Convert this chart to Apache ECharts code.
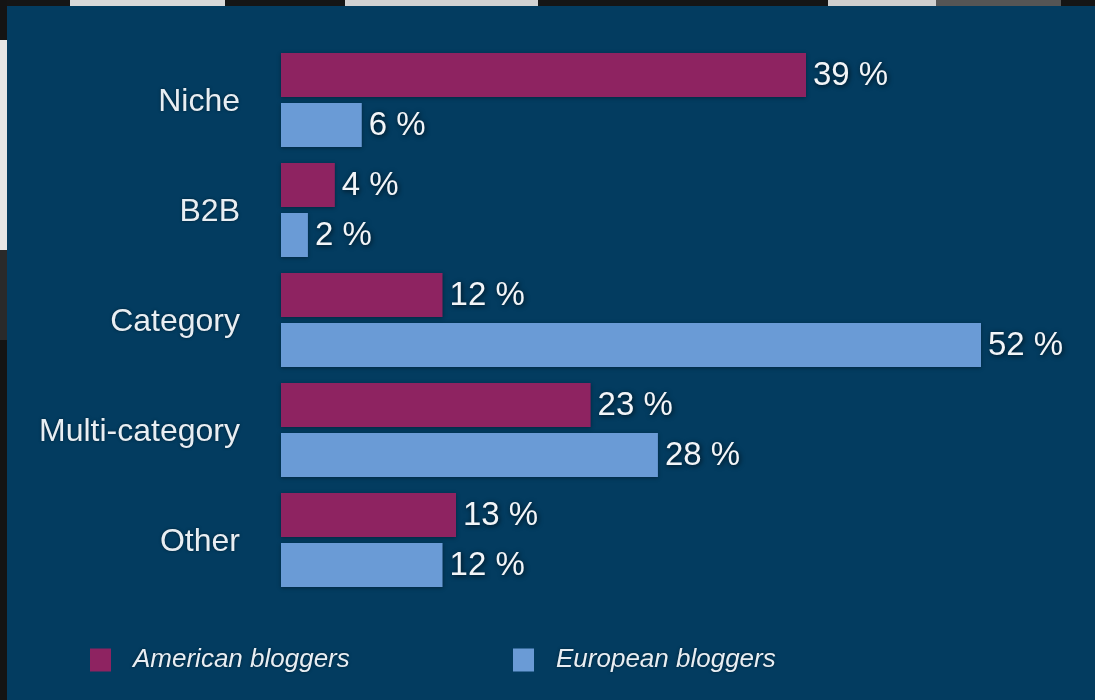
<!DOCTYPE html>
<html>
<head>
<meta charset="utf-8">
<title>Blogger focus: American vs European</title>
<script src="https://cdn.jsdelivr.net/npm/echarts@6/dist/echarts.min.js"></script>
<style>
  html, body { margin: 0; padding: 0; background: #111; }
  #chart { width: 1095px; height: 700px; }
</style>
</head>
<body>
<div id="chart"></div>
<script>
// Blog focus categories, top to bottom
const categories = ['Niche', 'B2B', 'Category', 'Multi-category', 'Other'];
// Share of bloggers per focus, in percent
const americanValues = [39, 4, 12, 23, 13];
const europeanValues = [6, 2, 52, 28, 12];
const seriesNames = ['American bloggers', 'European bloggers'];

const PANEL = '#033c60';
const MAGENTA = '#8e2361';
const BLUE = '#6a9bd6';
const TEXT = '#e8eef3';
const FONT = '"Liberation Sans", Arial, Helvetica, sans-serif';

const chart = echarts.init(document.getElementById('chart'), null, { renderer: 'canvas' });

const valueLabel = {
  show: true,
  position: 'right',
  distance: 7,
  offset: [0, 1],
  formatter: '{c} %',
  color: '#f2f5f8',
  fontFamily: FONT,
  fontSize: 33,
  textShadowColor: 'rgba(0,0,0,0.75)',
  textShadowBlur: 5,
  textShadowOffsetX: 1,
  textShadowOffsetY: 1
};

const barShadow = {
  shadowColor: 'rgba(0,0,0,0.35)',
  shadowBlur: 4,
  shadowOffsetY: 1
};

function legendFor(name, left) {
  return {
    data: [name],
    left: left,
    top: 647,
    icon: 'rect',
    itemWidth: 21,
    itemHeight: 23,
    padding: 0,
    textStyle: {
      color: TEXT,
      fontFamily: FONT,
      fontStyle: 'italic',
      fontSize: 26,
      padding: [7, 0, 0, 17],
      textShadowColor: 'rgba(0,0,0,0.5)',
      textShadowBlur: 3
    }
  };
}

chart.setOption({
  backgroundColor: PANEL,
  animation: false,
  // strips of the backdrop photograph along the top and left edges
  graphic: [
    { type: 'rect', shape: { x: 0, y: 0, width: 1095, height: 6 }, style: { fill: '#151515' } },
    { type: 'rect', shape: { x: 70, y: 0, width: 155, height: 6 }, style: { fill: '#d9d9d9' } },
    { type: 'rect', shape: { x: 345, y: 0, width: 193, height: 6 }, style: { fill: '#d2d2d2' } },
    { type: 'rect', shape: { x: 828, y: 0, width: 108, height: 6 }, style: { fill: '#cfcfcf' } },
    { type: 'rect', shape: { x: 936, y: 0, width: 125, height: 6 }, style: { fill: '#555' } },
    { type: 'rect', shape: { x: 0, y: 0, width: 7, height: 700 }, style: { fill: '#141414' } },
    { type: 'rect', shape: { x: 0, y: 40, width: 7, height: 210 }, style: { fill: '#e6e6e6' } },
    { type: 'rect', shape: { x: 0, y: 250, width: 7, height: 90 }, style: { fill: '#2a2a2a' } }
  ],
  grid: { left: 281, top: 45, width: 700, height: 550 },
  xAxis: {
    type: 'value',
    min: 0,
    max: 52,
    show: false
  },
  yAxis: {
    type: 'category',
    data: categories,
    inverse: true,
    axisLine: { show: false },
    axisTick: { show: false },
    splitLine: { show: false },
    axisLabel: {
      margin: 41,
      formatter: '{cat|{value}}',
      rich: {
        cat: {
          padding: [5, 0, 0, 0],
          color: TEXT,
          fontFamily: FONT,
          fontSize: 32,
          textShadowColor: 'rgba(0,0,0,0.5)',
          textShadowBlur: 3
        }
      },
      color: TEXT,
      fontFamily: FONT,
      fontSize: 32
    }
  },
  legend: [
    legendFor(seriesNames[0], 90),
    legendFor(seriesNames[1], 513)
  ],
  series: [
    {
      name: seriesNames[0],
      type: 'bar',
      data: americanValues,
      barWidth: 44,
      barGap: '14%',
      itemStyle: Object.assign({ color: MAGENTA }, barShadow),
      label: valueLabel
    },
    {
      name: seriesNames[1],
      type: 'bar',
      data: europeanValues,
      barWidth: 44,
      itemStyle: Object.assign({ color: BLUE }, barShadow),
      label: valueLabel
    }
  ]
});
</script>
</body>
</html>
